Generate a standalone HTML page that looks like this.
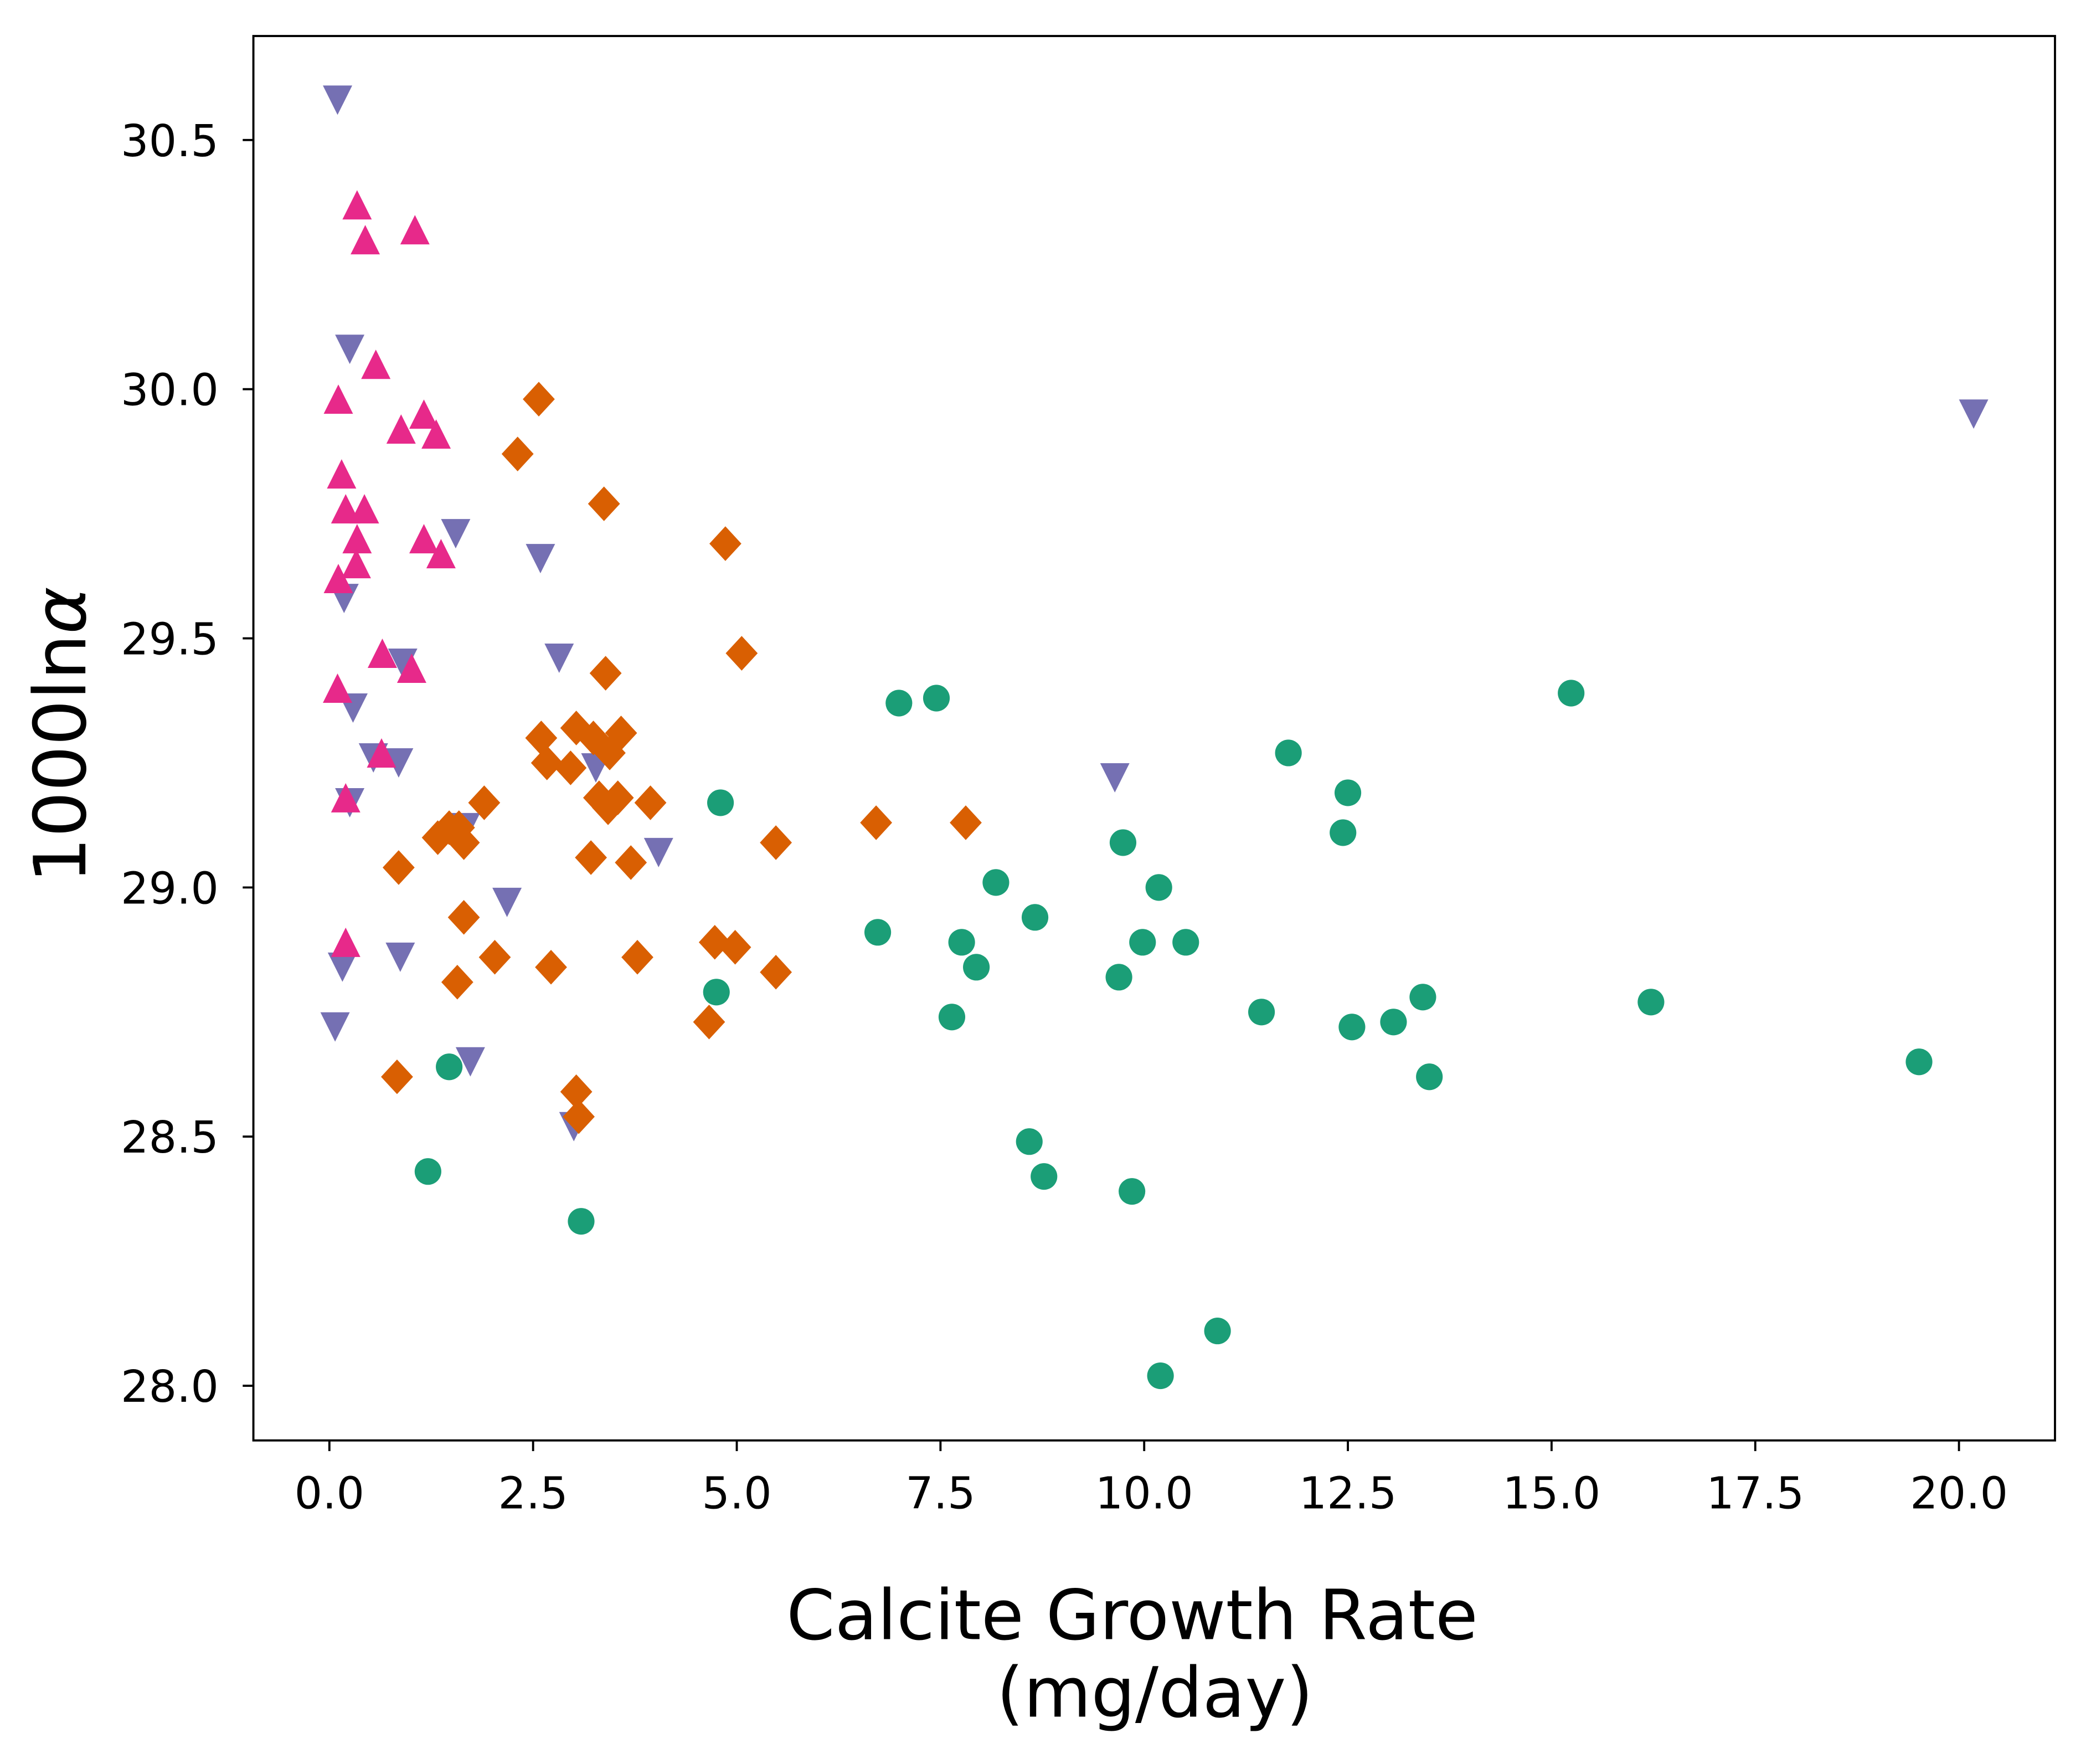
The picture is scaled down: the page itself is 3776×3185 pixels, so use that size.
<!DOCTYPE html>
<html><head><meta charset="utf-8"><style>html,body{margin:0;padding:0;background:#fff}svg{display:block}</style></head>
<body>
<svg id="chart" width="3776" height="3185" viewBox="0 0 1568 1322.6" xmlns="http://www.w3.org/2000/svg" font-family="'DejaVu Sans','Liberation Sans',sans-serif">
<rect width="1568" height="1322.6" fill="#fff"/>
<g id="marks"></g>
<rect x="190" y="27" width="1351" height="1053" fill="none" stroke="#000" stroke-width="1.6"/>
<g id="xt"></g>
<g id="yt"></g>
<text transform="translate(64,551) rotate(-90)" text-anchor="middle" font-size="54">1000ln<tspan font-style="italic">α</tspan></text>
<text x="849" y="1229" text-anchor="middle" font-size="52">Calcite Growth Rate</text>
<text x="866" y="1287" text-anchor="middle" font-size="52">(mg/day)</text>
</svg>
<script>
const greenX=[1.47,1.21,3.09,4.75,4.80,6.73,6.99,7.45,7.64,7.76,7.94,8.18,8.66,8.59,8.77,9.74,9.69,9.85,9.98,10.18,10.51,10.20,10.90,11.44,11.77,12.50,12.44,12.55,13.06,13.42,13.50,15.24,16.22,19.51];
const greenY=[28.64,28.43,28.33,28.79,29.17,28.91,29.37,29.38,28.74,28.89,28.84,29.01,28.94,28.49,28.42,29.09,28.82,28.39,28.89,29.00,28.89,28.02,28.11,28.75,29.27,29.19,29.11,28.72,28.73,28.78,28.62,29.39,28.77,28.65];
const orangeX=[2.57,2.31,3.37,4.86,5.06,3.39,2.60,3.03,3.58,2.67,2.96,3.24,3.44,3.31,3.54,3.42,3.94,1.90,1.47,1.33,1.59,1.65,0.85,3.21,3.70,5.48,6.71,7.81,1.65,2.03,2.72,3.78,1.57,4.73,4.98,5.48,4.66,0.83,3.03,3.06];
const orangeY=[29.98,29.87,29.77,29.69,29.47,29.43,29.30,29.32,29.31,29.25,29.24,29.30,29.27,29.18,29.18,29.16,29.17,29.17,29.12,29.10,29.12,29.09,29.04,29.06,29.05,29.09,29.13,29.13,28.94,28.86,28.84,28.86,28.81,28.89,28.88,28.83,28.73,28.62,28.59,28.54];
const purpleX=[0.10,0.25,1.55,2.59,0.18,2.82,0.90,0.29,0.54,0.85,0.25,1.67,4.04,2.18,9.64,0.87,0.16,0.07,1.73,3.00,20.18,3.27];
const purpleY=[30.58,30.08,29.71,29.66,29.58,29.46,29.45,29.36,29.26,29.25,29.17,29.12,29.07,28.97,29.22,28.86,28.84,28.72,28.65,28.52,29.95,29.24];
const pinkX=[0.34,0.44,1.05,0.57,0.11,0.88,1.16,1.31,0.15,0.20,0.43,0.34,1.16,0.33,1.37,0.11,0.65,1.01,0.10,0.64,0.20,0.20];
const pinkY=[30.37,30.30,30.32,30.05,29.98,29.92,29.95,29.91,29.83,29.76,29.76,29.70,29.70,29.65,29.67,29.62,29.47,29.44,29.40,29.27,29.18,28.89];
const xTicks=[0,2.5,5,7.5,10,12.5,15,17.5,20];
const yTicks=[28.0,28.5,29.0,29.5,30.0,30.5];

const NS="http://www.w3.org/2000/svg";
const sx=v=>247+v*61.1;
const sy=v=>105+(30.5-v)*373.6;
const marks=document.getElementById('marks');
function mk(tag,attrs,parent){const e=document.createElementNS(NS,tag);for(const k in attrs)e.setAttribute(k,attrs[k]);parent.appendChild(e);return e;}
greenX.forEach((x,i)=>{const e=mk('circle',{cx:sx(x),cy:sy(greenY[i]),r:10,fill:'#1b9e77'},marks);

});
purpleX.forEach((x,i)=>{const X=sx(x),Y=sy(purpleY[i]);const e=mk('polygon',{points:`${X-11},${Y-11} ${X+11},${Y-11} ${X},${Y+11}`,fill:'#7570b3'},marks);

});
pinkX.forEach((x,i)=>{const X=sx(x),Y=sy(pinkY[i]);const e=mk('polygon',{points:`${X-11},${Y+11} ${X+11},${Y+11} ${X},${Y-11}`,fill:'#e7298a'},marks);

});
orangeX.forEach((x,i)=>{const X=sx(x),Y=sy(orangeY[i]);const e=mk('polygon',{points:`${X},${Y-13} ${X+12},${Y} ${X},${Y+13} ${X-12},${Y}`,fill:'#d95f02'},marks);

});
const xt=document.getElementById('xt');
xTicks.forEach(t=>{const X=sx(t);mk('line',{x1:X,x2:X,y1:1080,y2:1088,stroke:'#000','stroke-width':1.6},xt);
const tx=mk('text',{x:X,y:1131,'text-anchor':'middle','font-size':33},xt);tx.textContent=t.toFixed(1);

});
const yt=document.getElementById('yt');
yTicks.forEach(t=>{const Y=sy(t);mk('line',{x1:182,x2:190,y1:Y,y2:Y,stroke:'#000','stroke-width':1.6},yt);
const tx=mk('text',{x:164,y:Y+12,'text-anchor':'end','font-size':33},yt);tx.textContent=t.toFixed(1);

});
</script>
</body></html>
